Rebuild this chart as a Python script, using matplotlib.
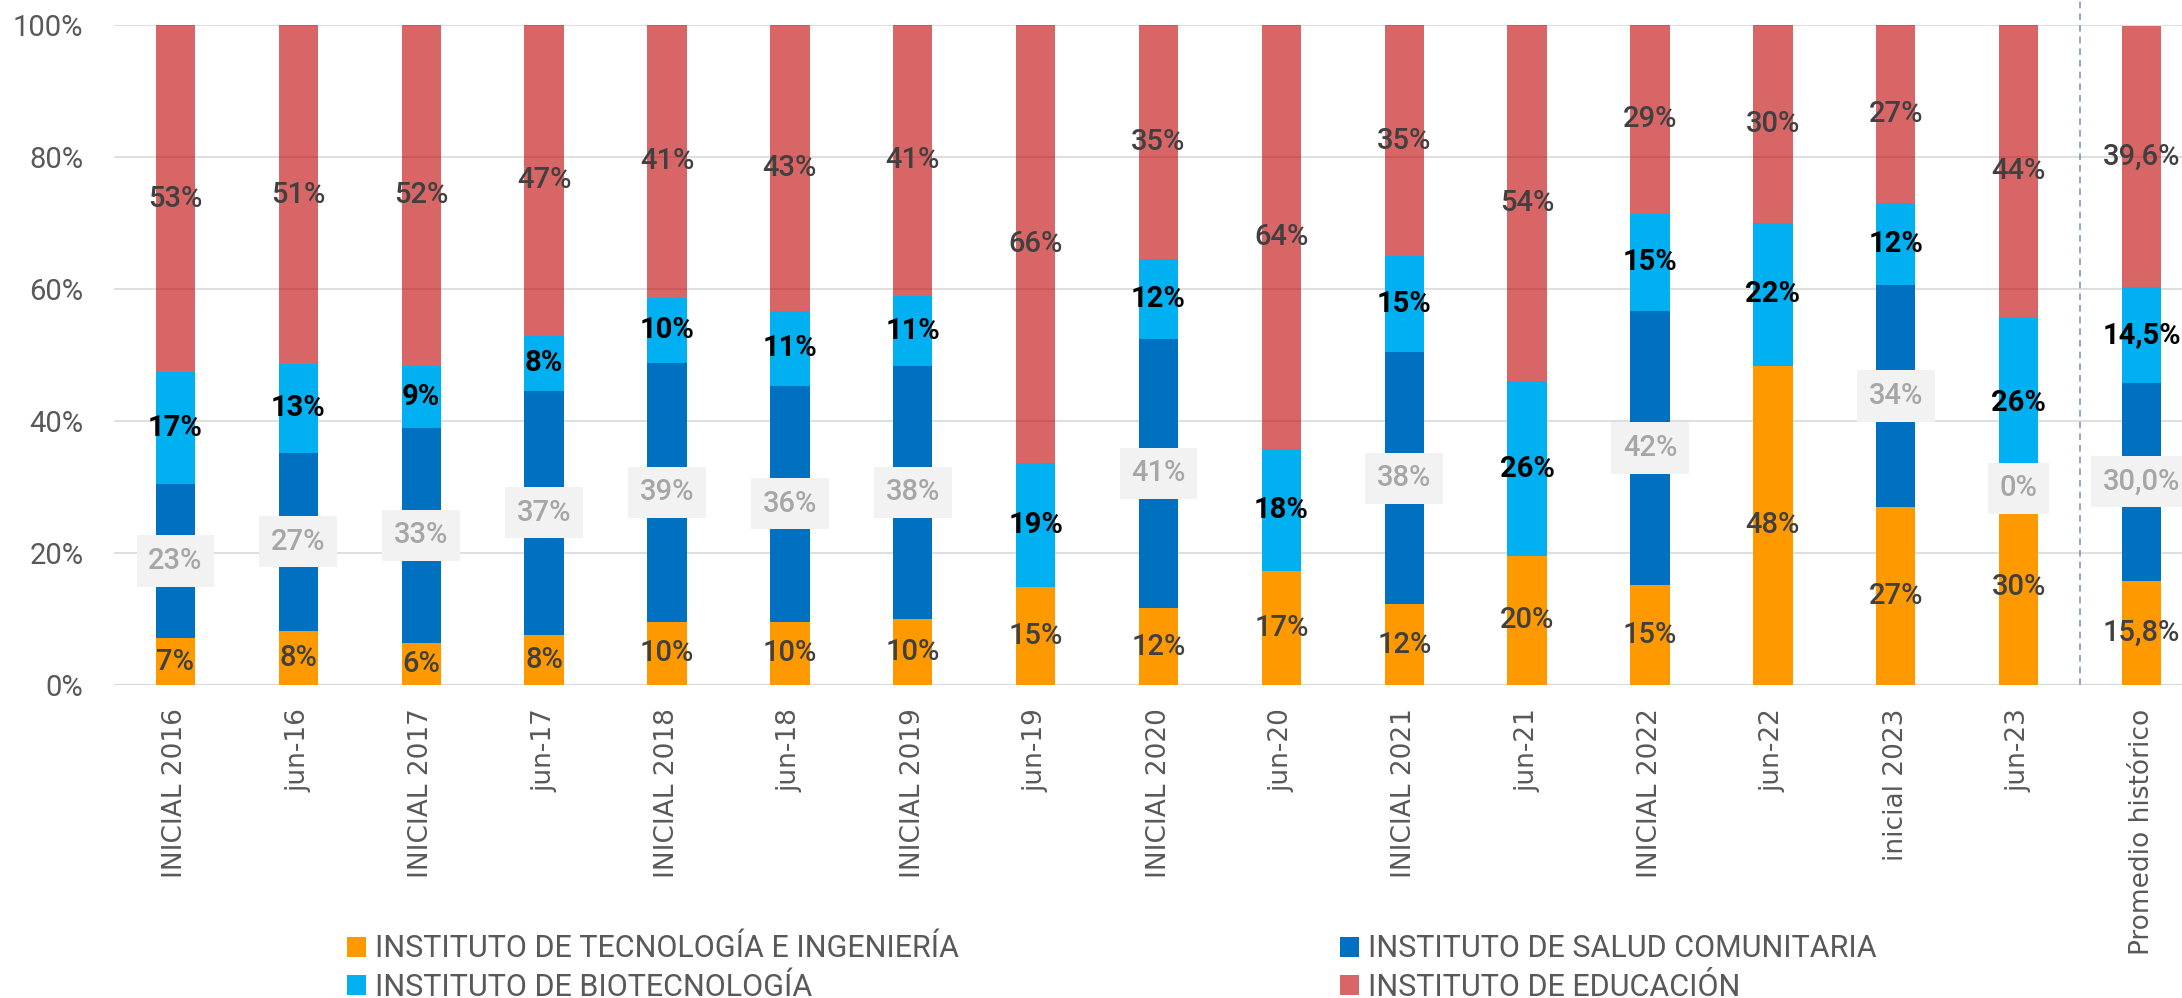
import numpy as np
import matplotlib
matplotlib.use('Agg')
import matplotlib.pyplot as plt
from matplotlib import font_manager

# Datos (porcentaje de cada instituto por período)
categorias = ['INICIAL 2016', 'jun-16', 'INICIAL 2017', 'jun-17', 'INICIAL 2018', 'jun-18',
              'INICIAL 2019', 'jun-19', 'INICIAL 2020', 'jun-20', 'INICIAL 2021', 'jun-21',
              'INICIAL 2022', 'jun-22', 'inicial 2023', 'jun-23', 'Promedio histórico']
tecnologia = [7.1, 8.2, 6.4, 7.6, 9.6, 9.6, 10.0, 14.9, 11.6, 17.3, 12.2, 19.6, 15.1, 48.4, 27.0, 29.8, 15.8]
salud = [23.4, 27.0, 32.6, 37.0, 39.2, 35.7, 38.4, np.nan, 40.9, np.nan, 38.2, np.nan, 41.6, np.nan, 33.6, 0.0, 30.0]
biotecnologia = [16.9, 13.4, 9.4, 8.3, 9.9, 11.4, 10.6, 18.7, 12.1, 18.4, 14.6, 26.4, 14.7, 21.6, 12.4, 26.0, 14.5]
educacion = [52.6, 51.4, 51.6, 47.1, 41.3, 43.3, 41.0, 66.4, 35.4, 64.3, 35.0, 54.0, 28.6, 30.0, 27.0, 44.2, 39.6]
decimales = [0] * 16 + [1]  # el promedio lleva un decimal

nombres = ['INSTITUTO DE TECNOLOGÍA E INGENIERÍA', 'INSTITUTO DE SALUD COMUNITARIA',
           'INSTITUTO DE BIOTECNOLOGÍA', 'INSTITUTO DE EDUCACIÓN']
colores = ['#FF9900', '#0070C0', '#00B0F0', '#C00000']

# fuente para etiquetas y leyenda
disponibles = {f.name for f in font_manager.fontManager.ttflist}
fuente = next((f for f in ['Roboto', 'Open Sans'] if f in disponibles), 'DejaVu Sans')

# estilo de las etiquetas de cada serie
estilos = [
    dict(color='#404040', fontweight='medium', bbox=None),
    dict(color='#A6A6A6', fontweight='medium',
         bbox=dict(boxstyle='square,pad=0.4', facecolor='#F2F2F2', edgecolor='none')),
    dict(color='#000000', fontweight='bold', bbox=None),
    dict(color='#404040', fontweight='medium', bbox=None),
]
alphas = [1, 1, 1, 0.6]

fig = plt.figure(figsize=(21.82, 9.98), dpi=100)
ax = fig.add_axes([114 / 2182, 313 / 998, (2203 - 114) / 2182, 660 / 998])

x = np.arange(len(categorias))
ancho = 0.32
base = np.zeros(len(x))
barras = []
for nombre, valores, color, alpha, est in zip(nombres, [tecnologia, salud, biotecnologia, educacion],
                                              colores, alphas, estilos):
    v = np.array(valores, dtype=float)
    h = np.nan_to_num(v)
    b = ax.bar(x, h, ancho, bottom=base, color=color, alpha=alpha, label=nombre, zorder=2, linewidth=0)
    barras.append(b)
    for i in range(len(x)):
        if np.isnan(v[i]):
            continue
        texto = f"{v[i]:.{decimales[i]}f}%".replace('.', ',')
        ax.text(x[i], base[i] + h[i] / 2, texto, ha='center', va='center', fontsize=21,
                family=fuente, color=est['color'], fontweight=est['fontweight'],
                bbox=est['bbox'], zorder=4)
    base += h

ax.set_xlim(-0.5, len(x) - 0.5)
ax.set_ylim(0, 100)
ax.set_yticks(range(0, 101, 20))
ax.set_yticklabels([f'{t}%' for t in range(0, 101, 20)], family=fuente, fontsize=21, color='#595959')
ax.set_xticks(x)
ax.set_xticklabels(categorias, rotation=90, family='DejaVu Sans', fontsize=19, color='#595959')
ax.tick_params(axis='y', length=0, pad=22)
ax.tick_params(axis='x', length=0, pad=17)
ax.grid(axis='y', color='#D9D9D9', linewidth=1.2, zorder=0)
ax.set_axisbelow(True)
for s in ax.spines.values():
    s.set_visible(False)
ax.axhline(0, color='#D9D9D9', linewidth=1.6, zorder=1)

# separador del promedio histórico
ax.axvline(15.5, ymin=0, ymax=1 + 25 / 660, color='#8497B0', linestyle=(0, (4, 3)),
           linewidth=1.2, clip_on=False, zorder=1)

orden = [barras[0], barras[2], barras[1], barras[3]]
fig.legend(orden, [b.get_label() for b in orden], loc='upper left', bbox_to_anchor=(332 / 2182, 0.079),
           ncol=2, frameon=False, borderpad=0, handlelength=0.62, handleheight=0.62,
           handletextpad=0.3, columnspacing=12.45, labelspacing=0.3,
           prop=dict(family=fuente, size=22), labelcolor='#595959')

fig.savefig('out.png', dpi=100)
